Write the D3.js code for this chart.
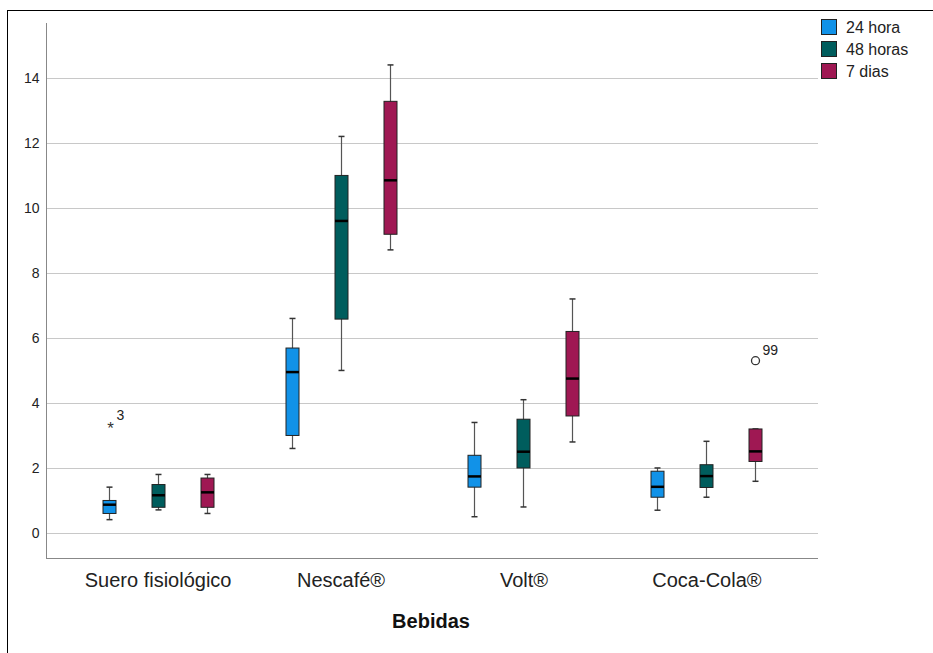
<!DOCTYPE html>
<html>
<head>
<meta charset="utf-8">
<script src="https://cdn.jsdelivr.net/npm/d3@7"></script>
<style>
  body { margin: 0; background: #fff; }
  text { font-family: "Liberation Sans", Arial, sans-serif; }
</style>
</head>
<body>
<svg id="chart" width="933" height="653"></svg>
<script>
// categories and series
const categories = ['Suero fisiológico', 'Nescafé®', 'Volt®', 'Coca-Cola®'];
const series = ['24 hora', '48 horas', '7 dias'];
const seriesColors = ['#1192e8', '#005d5d', '#9f1853'];

// [whisker low, Q1, median, Q3, whisker high] per category
const stats24h = [[0.41, 0.6, 0.87, 1.0, 1.41], [2.6, 3.0, 4.95, 5.69, 6.6], [0.5, 1.41, 1.74, 2.39, 3.4], [0.7, 1.1, 1.42, 1.9, 2.0]];
const stats48h = [[0.71, 0.79, 1.16, 1.49, 1.8], [5.0, 6.58, 9.6, 11.0, 12.2], [0.8, 2.0, 2.5, 3.5, 4.1], [1.1, 1.4, 1.75, 2.1, 2.82]];
const stats7d = [[0.6, 0.79, 1.25, 1.69, 1.8], [8.71, 9.19, 10.85, 13.28, 14.4], [2.8, 3.6, 4.75, 6.2, 7.2], [1.59, 2.2, 2.51, 3.2, 3.2]];
const allStats = [stats24h, stats48h, stats7d];

// outliers: category index, series index, value, case label, marker
const outliers = [
  { cat: 0, ser: 0, value: 3.3, label: '3', kind: 'extreme' },
  { cat: 3, ser: 2, value: 5.3, label: '99', kind: 'outlier' }
];

const yTicks = [0, 2, 4, 6, 8, 10, 12, 14];

const svg = d3.select('#chart');
const plot = { left: 46, right: 818, top: 23, bottom: 558 };

// outer frame
svg.append('rect')
  .attr('x', 7.5).attr('y', 10.5)
  .attr('width', 1000).attr('height', 700)
  .attr('fill', 'none')
  .attr('stroke', '#000')
  .attr('stroke-width', 1);

const y = d3.scaleLinear()
  .domain([-0.77, 15.69])
  .range([plot.bottom, plot.top]);

const x = d3.scalePoint()
  .domain(categories)
  .range([plot.left, plot.right])
  .padding(0.61);

const offset = d3.scalePoint()
  .domain(series)
  .range([-49, 49]);

// gridlines
svg.append('g')
  .selectAll('line')
  .data(yTicks)
  .join('line')
  .attr('x1', plot.left).attr('x2', plot.right)
  .attr('y1', d => Math.round(y(d)) + 0.5)
  .attr('y2', d => Math.round(y(d)) + 0.5)
  .attr('stroke', '#c8c8c8')
  .attr('stroke-width', 1);

// y axis
const yAxis = svg.append('g')
  .attr('transform', `translate(${plot.left + 0.5},0)`)
  .call(d3.axisLeft(y).tickValues(yTicks).tickSize(0).tickPadding(7));
yAxis.select('.domain').attr('stroke', '#888').attr('d', `M0,${plot.top}V${plot.bottom}`);
yAxis.selectAll('text').attr('font-size', 14).attr('fill', '#222')
  .attr('font-family', '"Liberation Sans", Arial, sans-serif');

// x axis
const xAxis = svg.append('g')
  .attr('transform', `translate(0,${plot.bottom + 0.5})`)
  .call(d3.axisBottom(x).tickSize(0).tickPadding(14));
xAxis.select('.domain').attr('stroke', '#888').attr('d', `M${plot.left},0H${plot.right}`);
xAxis.selectAll('text').attr('font-size', 20).attr('fill', '#222')
  .attr('font-family', '"Liberation Sans", Arial, sans-serif');

svg.append('text')
  .attr('x', 431).attr('y', 628)
  .attr('text-anchor', 'middle')
  .attr('font-size', 20)
  .attr('font-weight', 'bold')
  .attr('fill', '#111')
  .text('Bebidas');

// boxes
const boxW = 13;
const capW = 6;
const boxes = [];
allStats.forEach((rows, si) => {
  rows.forEach((s, ci) => {
    boxes.push({ ser: si, cat: ci, s });
  });
});

const bg = svg.append('g')
  .selectAll('g')
  .data(boxes)
  .join('g')
  .attr('transform', d => `translate(${Math.round(x(categories[d.cat]) + offset(series[d.ser]))},0)`);

bg.append('line')
  .attr('x1', 0.5).attr('x2', 0.5)
  .attr('y1', d => y(d.s[0])).attr('y2', d => y(d.s[4]))
  .attr('stroke', '#555').attr('stroke-width', 1.2);

bg.append('line')
  .attr('x1', -capW / 2 + 0.5).attr('x2', capW / 2 + 0.5)
  .attr('y1', d => y(d.s[0])).attr('y2', d => y(d.s[0]))
  .attr('stroke', '#333').attr('stroke-width', 1.5);

bg.append('line')
  .attr('x1', -capW / 2 + 0.5).attr('x2', capW / 2 + 0.5)
  .attr('y1', d => y(d.s[4])).attr('y2', d => y(d.s[4]))
  .attr('stroke', '#333').attr('stroke-width', 1.5);

bg.append('rect')
  .attr('x', -boxW / 2 + 0.5)
  .attr('y', d => y(d.s[3]))
  .attr('width', boxW)
  .attr('height', d => y(d.s[1]) - y(d.s[3]))
  .attr('fill', d => seriesColors[d.ser])
  .attr('stroke', '#222')
  .attr('stroke-width', 1);

bg.append('line')
  .attr('x1', -boxW / 2 + 0.5).attr('x2', boxW / 2 + 0.5)
  .attr('y1', d => y(d.s[2])).attr('y2', d => y(d.s[2]))
  .attr('stroke', '#000').attr('stroke-width', 2.5);

// outliers
const og = svg.append('g')
  .selectAll('g')
  .data(outliers)
  .join('g')
  .attr('transform', d => `translate(${Math.round(x(categories[d.cat]) + offset(series[d.ser])) + 0.5},${y(d.value)})`);

og.filter(d => d.kind === 'outlier').append('circle')
  .attr('r', 4)
  .attr('fill', '#fff')
  .attr('stroke', '#333')
  .attr('stroke-width', 1.3);

og.filter(d => d.kind === 'extreme').append('text')
  .attr('x', 1)
  .attr('text-anchor', 'middle')
  .attr('dy', 8)
  .attr('font-size', 17)
  .attr('fill', '#333')
  .text('*');

og.append('text')
  .attr('x', 7).attr('y', -6)
  .attr('font-size', 14)
  .attr('fill', '#222')
  .text(d => d.label);

// legend
const lg = svg.append('g')
  .selectAll('g')
  .data(series)
  .join('g')
  .attr('transform', (d, i) => `translate(821,${19 + i * 22})`);

lg.append('rect')
  .attr('x', 0.5).attr('y', 0.5)
  .attr('width', 15).attr('height', 15)
  .attr('fill', (d, i) => seriesColors[i])
  .attr('stroke', '#222');

lg.append('text')
  .attr('x', 25).attr('y', 14)
  .attr('font-size', 16)
  .attr('fill', '#222')
  .text(d => d);
</script>
</body>
</html>
